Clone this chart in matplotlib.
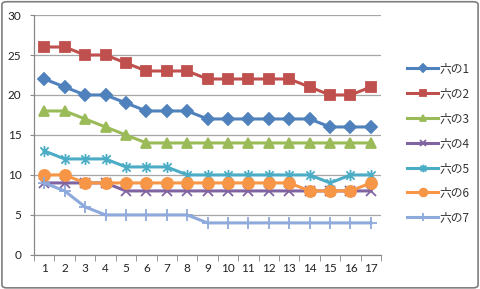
import numpy as np
import matplotlib.pyplot as plt
from matplotlib.path import Path
from matplotlib.patches import FancyBboxPatch

plt.rcParams['font.family'] = ['Lato', 'DejaVu Sans']

days = list(range(1, 18))
s1 = [22, 21, 20, 20, 19, 18, 18, 18, 17, 17, 17, 17, 17, 17, 16, 16, 16]
s2 = [26, 26, 25, 25, 24, 23, 23, 23, 22, 22, 22, 22, 22, 21, 20, 20, 21]
s3 = [18, 18, 17, 16, 15, 14, 14, 14, 14, 14, 14, 14, 14, 14, 14, 14, 14]
s4 = [9, 9, 9, 9, 8, 8, 8, 8, 8, 8, 8, 8, 8, 8, 8, 8, 8]
s5 = [13, 12, 12, 12, 11, 11, 11, 10, 10, 10, 10, 10, 10, 10, 9, 10, 10]
s6 = [10, 10, 9, 9, 9, 9, 9, 9, 9, 9, 9, 9, 9, 8, 8, 8, 9]
s7 = [9, 8, 6, 5, 5, 5, 5, 5, 4, 4, 4, 4, 4, 4, 4, 4, 4]
labels = ["六の1", "六の2", "六の3", "六の4", "六の5", "六の6", "六の7"]

# excel style asterisk marker
star = Path([(0, -1), (0, 1), (-0.75, -0.75), (0.75, 0.75), (-0.75, 0.75), (0.75, -0.75)],
            [Path.MOVETO, Path.LINETO, Path.MOVETO, Path.LINETO, Path.MOVETO, Path.LINETO])

styles = [
    ("#4F81BD", "D", 6),
    ("#C0504D", "s", 7),
    ("#9BBB59", "^", 7),
    ("#8064A2", "x", 7),
    ("#4BACC6", star, 8),
    ("#F79646", "o", 8),
    ("#8EA9DB", "+", 9),
]

fig = plt.figure(figsize=(4.8, 2.89), dpi=100)
ax = fig.add_axes([0.071, 0.118, 0.723, 0.83])

x = np.arange(len(days))
for ys, lab, (c, m, ms) in zip([s1, s2, s3, s4, s5, s6, s7], labels, styles):
    ax.plot(x, ys, color=c, lw=2.2, marker=m, ms=ms, mfc=c, mec=c, mew=1.3, label=lab)

ax.set_xlim(-0.5, len(days) - 0.5)
ax.set_ylim(0, 30)
ax.set_yticks(range(0, 31, 5))
ax.set_xticks(x)
ax.set_xticklabels([str(d) for d in days])
ax.set_xticks(np.arange(-0.5, len(days)), minor=True)
ax.tick_params(axis='x', which='major', length=0, pad=6, labelsize=8.5, colors='#222222')
ax.tick_params(axis='x', which='minor', length=4, color='#888888', direction='out')
ax.tick_params(axis='y', length=3, color='#888888', labelsize=8.5, colors='#222222', pad=6)
ax.yaxis.grid(True, color='#A6A6A6', lw=0.9)
ax.set_axisbelow(True)
for sp in ['top', 'right']:
    ax.spines[sp].set_visible(False)
for sp in ['left', 'bottom']:
    ax.spines[sp].set_color('#888888')
    ax.spines[sp].set_linewidth(0.9)

leg = ax.legend(loc='center left', bbox_to_anchor=(1.045, 0.465), frameon=False,
                prop={'family': ['Noto Sans CJK JP', 'DejaVu Sans'], 'size': 8.5},
                handlelength=2.6, labelspacing=1.0, handletextpad=0.15, markerscale=0.7)
for t in leg.get_texts():
    t.set_color('#333333')

fig.patches.append(FancyBboxPatch((0.004, 0.004), 0.992, 0.99, boxstyle="round,pad=0,rounding_size=0.01",
                                  transform=fig.transFigure, fill=False, ec='#7F7F7F', lw=1.2))

fig.savefig("out.png", dpi=100)
